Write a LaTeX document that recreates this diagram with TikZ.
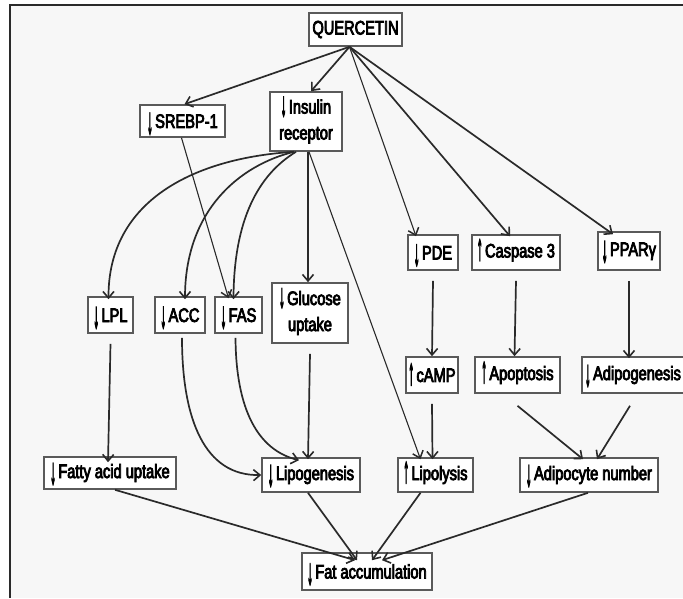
\documentclass[tikz,border=0pt]{standalone}
\usepackage{fontspec}
\usepackage{graphicx}
\setmainfont{Liberation Sans}[FakeStretch=0.75, FakeBold=4]
\usetikzlibrary{arrows.meta}
\definecolor{ink}{HTML}{2a2a2a}
\definecolor{boxline}{HTML}{5a5a5a}
\newcommand\dar{\raisebox{-0.3em}[0.72em][0pt]{\scalebox{0.75}[1.9]{↓}}\hspace{2.5pt}}
\newcommand\darhi{\raisebox{-0.12em}[0.72em][0pt]{\scalebox{0.75}[1.75]{↓}}\hspace{2.5pt}}
\newcommand\uar{\raisebox{-0.12em}[0.72em][0pt]{\scalebox{0.75}[1.9]{↑}}\hspace{2.5pt}}
\tikzset{
  box/.style={draw=boxline, line width=1.6pt, fill=white, inner sep=0pt, align=center,
    font=\fontsize{19.5}{26}\selectfont, text=black},
  arr/.style={draw=ink, line width=1.7pt, -{Straight Barb[length=6.5pt,width=11pt,line width=1.6pt]}},
  thin/.style={draw=ink, line width=1.1pt, -{Straight Barb[length=6.5pt,width=11pt,line width=1.5pt]}},
}
\begin{document}
\begin{tikzpicture}[x=1pt,y=-1pt]
\useasboundingbox (0,0) rectangle (683,598);
\fill[black!3] (10,5) rectangle (683,598);
\draw[line width=2pt, ink] (683,5) -- (10,5) -- (10,598);

\node[box, minimum width=93pt, minimum height=33pt] (q) at (355.5,29.5) {QUERCETIN};
\node[box, minimum width=85pt, minimum height=32pt] (srebp) at (182.5,121) {\dar SREBP-1};
\node[box, minimum width=72pt, minimum height=59pt] (ins) at (306,121.5) {\darhi Insulin\\receptor};
\node[box, minimum width=45pt, minimum height=36pt] (lpl) at (110.5,315) {\dar LPL};
\node[box, minimum width=50pt, minimum height=36pt] (acc) at (180,315) {\dar ACC};
\node[box, minimum width=47pt, minimum height=36pt] (fas) at (238.5,315) {\dar FAS};
\node[box, minimum width=76pt, minimum height=60pt] (glu) at (310,313) {\darhi Glucose\\uptake};
\node[box, minimum width=50pt, minimum height=35pt] (pde) at (433,252.5) {\dar PDE};
\node[box, minimum width=88pt, minimum height=35pt] (casp) at (516,252.5) {\uar Caspase 3};
\node[box, minimum width=62pt, minimum height=38pt] (ppar) at (629,251) {\dar PPARγ};
\node[box, minimum width=52pt, minimum height=36pt] (camp) at (432,375) {\uar cAMP};
\node[box, minimum width=85pt, minimum height=36pt] (apop) at (517.5,375) {\uar Apoptosis};
\node[box, minimum width=102pt, minimum height=36pt] (adig) at (633,375) {\dar Adipogenesis};
\node[box, minimum width=132pt, minimum height=32pt] (fau) at (110,473) {\dar Fatty acid uptake};
\node[box, minimum width=98pt, minimum height=34pt] (lipg) at (311,475) {\dar Lipogenesis};
\node[box, minimum width=75pt, minimum height=34pt] (lipl) at (435.5,475) {\uar Lipolysis};
\node[box, minimum width=138pt, minimum height=34pt] (adn) at (589,475) {\dar Adipocyte number};
\node[box, minimum width=130pt, minimum height=37pt] (fat) at (367,571.5) {\dar Fat accumulation};

% from quercetin
\draw[arr] ([xshift=-6pt]q.south) -- ([xshift=2pt]srebp.north);
\draw[arr] ([xshift=-6pt]q.south) -- ([xshift=5pt]ins.north);
\draw[thin] ([xshift=-6pt]q.south) -- ([xshift=-17pt,yshift=-2pt]pde.north);
\draw[arr] ([xshift=-6pt]q.south) -- ([xshift=-6pt,yshift=-2pt]casp.north);
\draw[arr] ([xshift=-6pt]q.south) -- ([xshift=-16pt,yshift=-3pt]ppar.north);

% SREBP to FAS
\draw[thin] ([xshift=-1pt]srebp.south) -- ([xshift=-10pt,yshift=-2pt]fas.north);

% insulin receptor fan
\draw[arr] ([xshift=-12pt]ins.south) .. controls (195,158) and (108,200) .. ([xshift=-2pt,yshift=-3pt]lpl.north);
\draw[arr] ([xshift=-12pt]ins.south) .. controls (240,165) and (185,210) .. ([xshift=5pt,yshift=-3pt]acc.north);
\draw[arr] ([xshift=-10pt]ins.south) .. controls (258,175) and (234,220) .. ([xshift=-5pt,yshift=-3pt]fas.north);
\draw[arr] ([xshift=2pt]ins.south) -- ([xshift=-2pt]glu.north);
\draw[thin] ([xshift=3pt]ins.south) -- ([xshift=-15pt,yshift=-2pt]lipl.north);

% vertical chains
\draw[arr] ([yshift=-10pt]pde.south) -- (camp.north);
\draw[arr] ([yshift=-10pt]casp.south) -- ([xshift=-3pt]apop.north);
\draw[arr] ([yshift=-10pt]ppar.south) -- ([xshift=-4pt,yshift=-2pt]adig.north);
\draw[arr] ([yshift=-10pt]lpl.south) -- ([xshift=-2pt,yshift=-6pt]fau.north);
\draw[arr] ([yshift=-10pt]glu.south) -- ([xshift=-3pt,yshift=-2pt]lipg.north);
\draw[arr] ([yshift=-10pt]camp.south) -- ([xshift=-3pt,yshift=-2pt]lipl.north);

% curves into lipogenesis
\draw[arr] ([xshift=2pt,yshift=-4pt]acc.south) .. controls (182,420) and (205,476) .. (lipg.west);
\draw[arr] ([xshift=-3pt,yshift=-4pt]fas.south) .. controls (236,410) and (258,450) .. ([xshift=-12pt,yshift=-3pt]lipg.north);

% into adipocyte number
\draw[arr] ([yshift=-12pt]apop.south) -- ([xshift=-6pt,yshift=-2pt]adn.north);
\draw[arr] ([xshift=-3pt,yshift=-12pt]adig.south) -- ([xshift=8pt,yshift=-2pt]adn.north);

% into fat accumulation
\draw[arr] ([xshift=5pt]fau.south) -- ([xshift=-12pt,yshift=-8pt]fat.north);
\draw[arr] ([xshift=-3pt]lipg.south) -- ([xshift=-10pt,yshift=-8pt]fat.north);
\draw[arr] ([xshift=-15pt]lipl.south) -- ([xshift=5pt,yshift=-8pt]fat.north);
\draw[arr] ([xshift=-1pt]adn.south) -- ([xshift=15pt,yshift=-8pt]fat.north);
\end{tikzpicture}
\end{document}
